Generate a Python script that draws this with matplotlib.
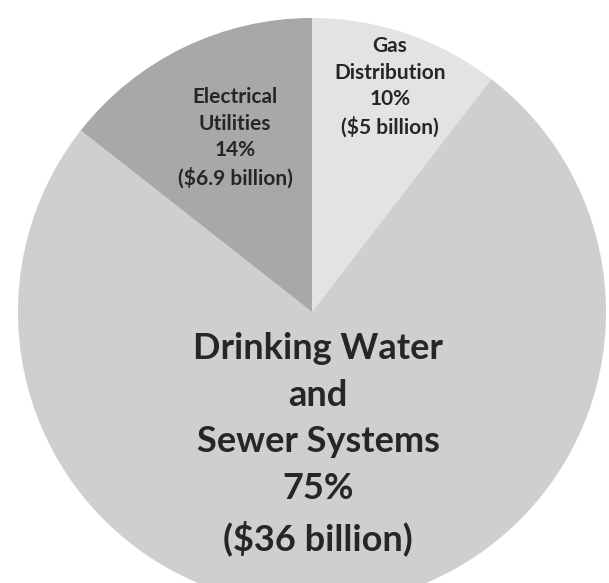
"""
Pie chart of infrastructure spending by utility sector.
"""

import matplotlib
matplotlib.use('Agg')
import matplotlib.pyplot as plt

# Sector data (billions of dollars) and shares as labelled, clockwise from the top
sectors = ['Gas\nDistribution', 'Drinking Water\nand\nSewer Systems', 'Electrical\nUtilities']
billions = [5, 36, 6.9]
shares = [10, 75, 14]
money_labels = ['($5 billion)', '($36 billion)', '($6.9 billion)']

colors = ['#e3e3e3', '#cfcfcf', '#a8a8a8']

W, H = 609, 583
fig = plt.figure(figsize=(W / 100, H / 100), dpi=100)
ax = fig.add_axes([0, 0, 1, 1])

cx, cy, r = 312, H - 312, 294
wedges, _ = ax.pie(
    billions,
    colors=colors,
    startangle=90,
    counterclock=False,
    center=(cx, cy),
    radius=r,
    frame=True,
    wedgeprops={'linewidth': 0},
)
# pie() resets the limits when frame=True, so put them back
ax.set_xlim(0, W)
ax.set_ylim(0, H)
ax.set_aspect('equal')
ax.axis('off')

text_style = dict(ha='center', va='center', color='#262626',
                  family=['Lato', 'DejaVu Sans'], fontweight='bold')

# label anchor points in pixels from top-left
label_pos = [(390, 87), (318, 444), (235, 138)]
font_sizes = [15, 26, 15]
spacing = [1.42, 1.51, 1.42]

for name, pct, money, (px, py), fs, ls in zip(sectors, shares, money_labels,
                                              label_pos, font_sizes, spacing):
    ax.text(px, H - py, f'{name}\n{pct}%\n{money}', fontsize=fs,
            linespacing=ls, **text_style)

fig.savefig('out.png', dpi=100, facecolor='white')
